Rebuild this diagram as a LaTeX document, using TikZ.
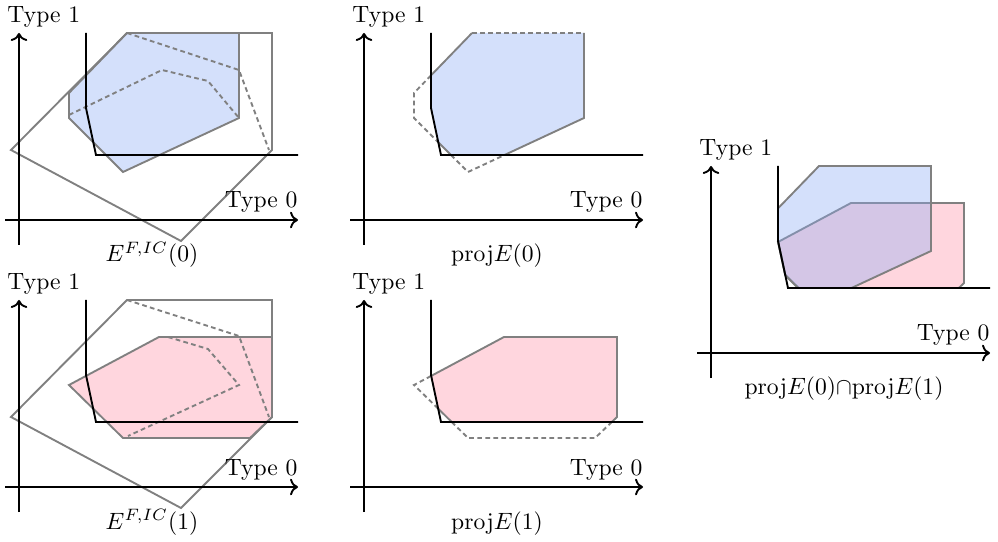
\documentclass[tikz,border=0pt]{standalone}
\usepackage{tikz}
\usetikzlibrary{arrows.meta}
\definecolor{zeroset}{RGB}{139,171,244}
\definecolor{oneset}{RGB}{255,214,222}
\tikzset{
  ax_line/.style={->,thick,draw=black},
  bd_line/.style={thick,draw=black},
  set_edge/.style={thick,draw=gray},
  set_dash/.style={thick,draw=gray,dash pattern=on 2pt off 1.4pt},
  zero_fill/.style={fill=zeroset,fill opacity=0.37},
  one_fill/.style={fill=oneset},
  ax_lbl/.style={inner sep=0pt},
}

\begin{document}
\begin{tikzpicture}[x=0.4237pt,y=0.4237pt]
  \useasboundingbox (0,0) rectangle (998,541);
  % E^{F,IC}(0)
  \begin{scope}[shift={(19,321)}]
    \draw[set_edge] (-8,70) -- (108,187) -- (253,187) -- (253,70) -- (162,-21) -- cycle;
    \filldraw[zero_fill,set_edge] (108,187) -- (220,187) -- (220,102) -- (104,48)
      -- (50,102) -- (50,127) -- cycle;
    \draw[set_dash] (108,187) -- (220,150) -- (250,70);
    \draw[set_dash] (50,105) -- (143,150) -- (189,139) -- (220,102);
  \end{scope}
  % proj E(0)
  \begin{scope}[shift={(364,321)}]
    \fill[zero_fill] (67,144.6) -- (108,187) -- (220,187) -- (220,102) -- (140.5,65)
      -- (87,65) -- (74.3,77.7) -- (67,112) -- cycle;
    \draw[set_edge] (67,112) -- (67,144.6) -- (108,187);
    \draw[set_edge] (220,187) -- (220,102) -- (140.5,65) -- (87,65) -- (74.3,77.7);
    \draw[set_dash] (108,187) -- (220,187);
    \draw[set_dash] (67,144.6) -- (50,127) -- (50,102) -- (74.3,77.7);
    \draw[set_dash] (87,65) -- (104,48) -- (140.5,65);
  \end{scope}
  % E^{F,IC}(1)
  \begin{scope}[shift={(19,54)}]
    \draw[set_edge] (-8,70) -- (108,187) -- (253,187) -- (253,70) -- (162,-21) -- cycle;
    \filldraw[one_fill,set_edge] (140,150) -- (253,150) -- (253,70) -- (231,49)
      -- (104,49) -- (50,102) -- cycle;
    \draw[set_dash] (108,187) -- (220,151) -- (250,70);
    \draw[set_dash] (149,150) -- (189,138) -- (220,102) -- (109,51);
  \end{scope}
  % proj E(1)
  \begin{scope}[shift={(364,54)}]
    \fill[one_fill] (67,111) -- (140,150) -- (253,150) -- (253,70) -- (247.8,65)
      -- (87.7,65) -- (74.2,78.3) -- cycle;
    \draw[set_edge] (67,111) -- (140,150) -- (253,150) -- (253,70) -- (247.8,65);
    \draw[set_edge] (74.2,78.3) -- (87.7,65);
    \draw[set_dash] (67,111) -- (50,102) -- (74.2,78.3);
    \draw[set_dash] (87.7,65) -- (104,49) -- (231,49) -- (247.8,65);
  \end{scope}
  % intersection
  \begin{scope}[shift={(711,188)}]
    \filldraw[one_fill,set_edge] (67,111) -- (140,150) -- (253,150) -- (253,70) -- (247.8,65)
      -- (87.7,65) -- (74.2,78.3) -- cycle;
    \filldraw[zero_fill,set_edge] (67,144.6) -- (108,187) -- (220,187) -- (220,102) -- (140.5,65)
      -- (87,65) -- (74.3,77.7) -- (67,112) -- cycle;
  \end{scope}

  % axes and boundary in every panel
  \foreach \ox/\oy/\nm in {19/321/ea, 364/321/pa, 19/54/eb, 364/54/pb, 711/188/pc}{
    \begin{scope}[shift={(\ox,\oy)}]
      \draw[ax_line] (0,-25) -- (0,187);
      \draw[ax_line] (-14,0) -- (279,0);
      \draw[bd_line] (67,187) -- (67,112) -- (77,65) -- (279,65);
      \node[ax_lbl,anchor=base west] (t1-\nm) at (-12,197) {Type 1};
      \node[ax_lbl,anchor=base east] (t0-\nm) at (279,12) {Type 0};
    \end{scope}
  }

  \node[anchor=base] (cap-ea) at (152,279) {$E^{F,IC}(0)$};
  \node[anchor=base] (cap-pa) at (497,279) {$\mathrm{proj}E(0)$};
  \node[anchor=base] (cap-eb) at (152,12) {$E^{F,IC}(1)$};
  \node[anchor=base] (cap-pb) at (497,12) {$\mathrm{proj}E(1)$};
  \node[anchor=base] (cap-pc) at (844,146) {$\mathrm{proj}E(0){\cap}\mathrm{proj}E(1)$};
\end{tikzpicture}
\end{document}
